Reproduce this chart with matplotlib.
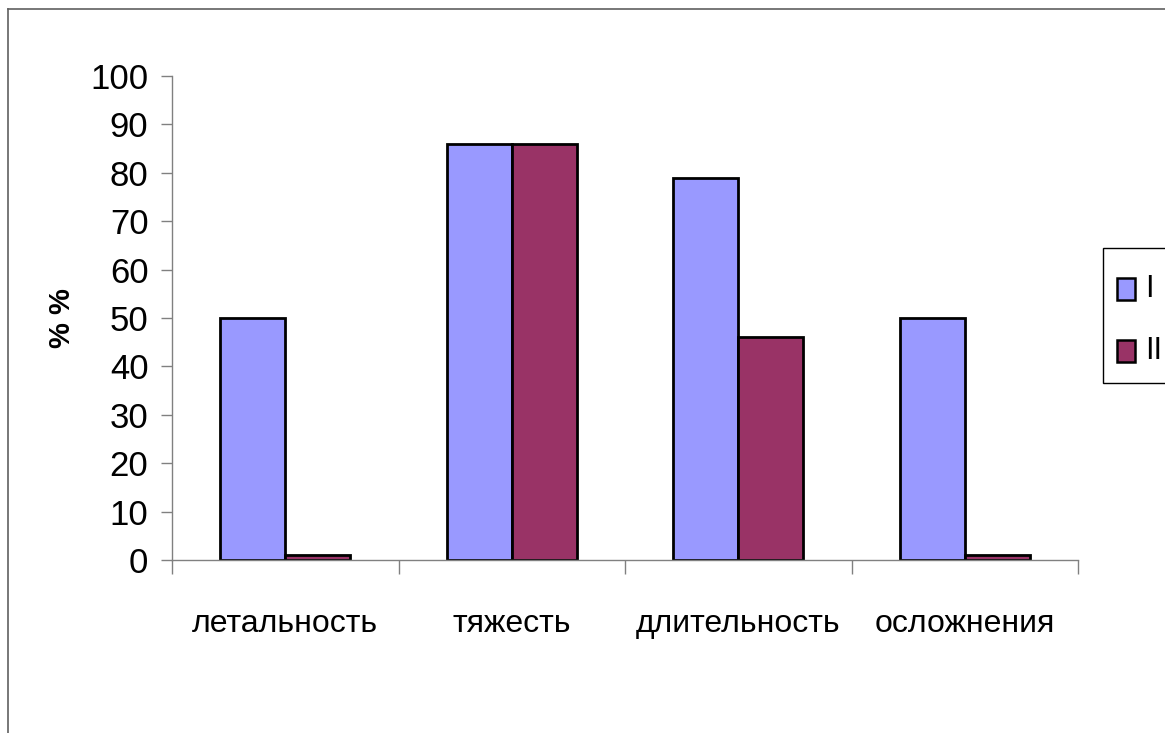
import matplotlib
matplotlib.use('Agg')
import matplotlib.pyplot as plt
from matplotlib import font_manager
from matplotlib.lines import Line2D
from matplotlib.patches import Rectangle
import numpy as np

categories = ['летальность', 'тяжесть', 'длительность', 'осложнения']
group_I = [50, 86, 79, 50]
group_II = [1, 86, 46, 1]
series_names = ['I', 'II']
series_colors = ['#9999FF', '#993366']
y_ticks = list(range(0, 101, 10))

installed = {f.name for f in font_manager.fontManager.ttflist}
family = 'Liberation Sans Narrow' if 'Liberation Sans Narrow' in installed else 'Liberation Sans'
plt.rcParams['font.family'] = [family, 'DejaVu Sans']

W, H = 1165, 733
fig = plt.figure(figsize=(W / 100, H / 100), dpi=100)


def fx(px):
    return px / W


def fy(py):
    return 1 - py / H


# outer chart-area border (only top and left edges show)
fig.add_artist(Line2D([fx(8), 1], [fy(9), fy(9)], color='#606060', lw=1.2))
fig.add_artist(Line2D([fx(8), fx(8)], [0, fy(9)], color='#606060', lw=1.2))

ax = fig.add_axes([fx(172), fy(560), fx(1078 - 172), (560 - 76) / H])

x = np.arange(len(categories)) + 0.5
width = 0.287
ax.bar(x - width / 2, group_I, width, color=series_colors[0], edgecolor='black',
       linewidth=2, label=series_names[0])
ax.bar(x + width / 2, group_II, width, color=series_colors[1], edgecolor='black',
       linewidth=2, label=series_names[1])

ax.set_xlim(0, len(categories))
ax.set_ylim(0, 100)
ax.set_yticks(y_ticks)
ax.tick_params(axis='y', labelsize=25, length=8, width=1, color='#808080', pad=9)
ax.set_xticks(np.arange(len(categories) + 1))
ax.set_xticklabels([])
ax.tick_params(axis='x', which='major', length=10, width=1, color='#808080')
ax.set_xticks(x, minor=True)
ax.set_xticklabels(categories, minor=True)
ax.tick_params(axis='x', which='minor', length=0, labelsize=23, pad=35)

for side in ['top', 'right']:
    ax.spines[side].set_visible(False)
for side in ['left', 'bottom']:
    ax.spines[side].set_color('#808080')
    ax.spines[side].set_linewidth(1)

ax.set_ylabel('% %', fontsize=21, fontweight='bold', labelpad=10)

# legend box, running off the right edge of the chart area
fig.add_artist(Rectangle((fx(1103), fy(383)), fx(80), (383 - 248) / H,
                         facecolor='white', edgecolor='black', lw=1,
                         transform=fig.transFigure))
for i, (name, color) in enumerate(zip(series_names, series_colors)):
    top = 278 + i * 62
    fig.add_artist(Rectangle((fx(1117), fy(top + 22)), fx(18), 22 / H,
                             facecolor=color, edgecolor='black', lw=1.8,
                             transform=fig.transFigure))
    fig.text(fx(1145), fy(top + 11), name, fontsize=22, va='center', ha='left')

fig.savefig('out.png', dpi=100, facecolor='white')
